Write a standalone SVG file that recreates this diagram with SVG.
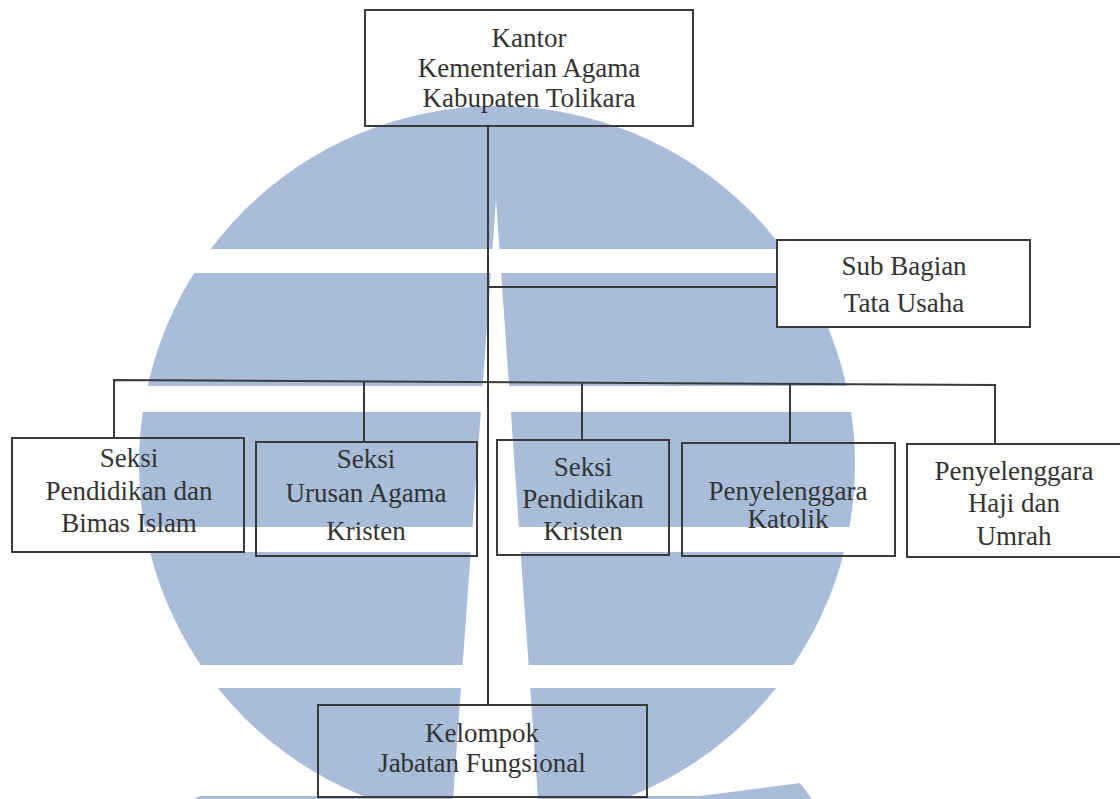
<svg xmlns="http://www.w3.org/2000/svg" width="1120" height="799" viewBox="0 0 1120 799">
  <style>
    .box { fill: none; stroke: #3a3a3a; stroke-width: 2; }
    .boxw { fill: #ffffff; stroke: #3a3a3a; stroke-width: 2; }
    .ln { fill: none; stroke: #3a3a3a; stroke-width: 2; }
    text { font-family: 'Liberation Serif', 'Times New Roman', Tinos, 'DejaVu Serif', serif; font-size: 27px; fill: #333333; text-anchor: middle; }
    .wm { fill: #a9bdda; }
    .wh { fill: #ffffff; }
  </style>

  <rect x="0" y="0" width="1120" height="799" fill="#ffffff"/>

  <!-- watermark -->
  <g id="watermark">
    <circle class="wm" cx="497" cy="464" r="358"/>
    <polygon class="wm" points="193,799 200,796 700,796 800,783 812,799"/>
    <rect class="wh" x="100" y="249" width="800" height="24"/>
    <rect class="wh" x="100" y="386" width="800" height="26"/>
    <rect class="wh" x="100" y="527" width="800" height="25"/>
    <rect class="wh" x="100" y="665" width="800" height="23"/>
    <polygon class="wh" points="496,200 538,799 453,799"/>
  </g>

  <!-- connectors -->
  <g id="connectors">
    <line class="ln" x1="488" y1="126" x2="488" y2="705"/>
    <line class="ln" x1="488" y1="287" x2="777" y2="287"/>
    <polyline class="ln" points="114,438 114,380 995,385 995,444"/>
    <line class="ln" x1="364" y1="381" x2="364" y2="442"/>
    <line class="ln" x1="582" y1="383" x2="582" y2="440"/>
    <line class="ln" x1="790" y1="384" x2="790" y2="443"/>
  </g>

  <g id="kantor" font-family="Liberation Serif, serif">
    <rect class="box" x="365" y="10" width="328" height="116"/>
    <text x="529" y="47">Kantor</text>
    <text x="529" y="77">Kementerian Agama</text>
    <text x="529" y="107">Kabupaten Tolikara</text>
  </g>

  <g id="sub-bagian">
    <rect class="boxw" x="777" y="240" width="253" height="87"/>
    <text x="904" y="275">Sub Bagian</text>
    <text x="904" y="312">Tata Usaha</text>
  </g>

  <g id="seksi-islam">
    <rect class="box" x="12" y="438" width="232" height="114"/>
    <text x="129" y="467">Seksi</text>
    <text x="129" y="500">Pendidikan dan</text>
    <text x="129" y="532">Bimas Islam</text>
  </g>

  <g id="seksi-urusan-kristen">
    <rect class="box" x="256" y="442" width="221" height="114"/>
    <text x="366" y="468">Seksi</text>
    <text x="366" y="502">Urusan Agama</text>
    <text x="366" y="540">Kristen</text>
  </g>

  <g id="seksi-pendidikan-kristen">
    <rect class="box" x="497" y="440" width="172" height="115"/>
    <text x="583" y="476">Seksi</text>
    <text x="583" y="508">Pendidikan</text>
    <text x="583" y="540">Kristen</text>
  </g>

  <g id="penyelenggara-katolik">
    <rect class="box" x="682" y="443" width="213" height="113"/>
    <text x="788" y="500">Penyelenggara</text>
    <text x="788" y="528">Katolik</text>
  </g>

  <g id="penyelenggara-haji">
    <rect class="box" x="907" y="444" width="220" height="113"/>
    <text x="1014" y="480">Penyelenggara</text>
    <text x="1014" y="512">Haji dan</text>
    <text x="1014" y="545">Umrah</text>
  </g>

  <g id="kelompok">
    <rect class="box" x="318" y="705" width="329" height="92"/>
    <text x="482" y="742">Kelompok</text>
    <text x="482" y="772">Jabatan Fungsional</text>
  </g>
</svg>
